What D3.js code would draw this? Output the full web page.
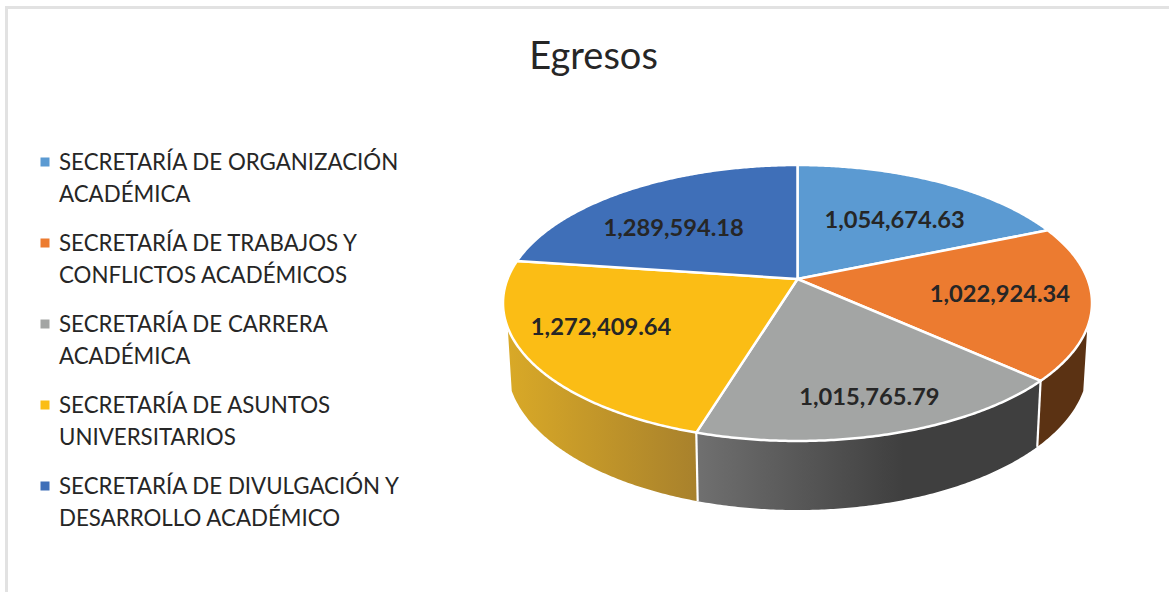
<!DOCTYPE html>
<html>
<head>
<meta charset="utf-8">
<script src="https://cdn.jsdelivr.net/npm/d3@7"></script>
<style>
    html, body { margin: 0; padding: 0; background: #fff; overflow: hidden; }
    text { font-family: Lato, "Open Sans", sans-serif; fill: #262626; }
</style>
</head>
<body>
<script>
const title = "Egresos";
const categories = [
    ["SECRETARÍA DE ORGANIZACIÓN", "ACADÉMICA"],
    ["SECRETARÍA DE TRABAJOS Y", "CONFLICTOS ACADÉMICOS"],
    ["SECRETARÍA DE CARRERA", "ACADÉMICA"],
    ["SECRETARÍA DE ASUNTOS", "UNIVERSITARIOS"],
    ["SECRETARÍA DE DIVULGACIÓN Y", "DESARROLLO ACADÉMICO"]
];
const values = [1054674.63, 1022924.34, 1015765.79, 1272409.64, 1289594.18];
const colors = ["#5b9ad2", "#ec7b30", "#a3a5a4", "#fbbd15", "#3f6fb8"];

// wall shading, left to right
const wallColors = [
    ["#5b3213", "#5b3213"],
    ["#5b3213", "#5b3213"],
    ["#707070", "#3f3f3f"],
    ["#d9a927", "#a8812c"],
    ["#000", "#000"]
];

// label placement inside the slice: share of radius, degrees off the middle
const labelRadius = [0.607, 0.693, 0.789, 0.719, 0.62];
const labelShift = [3.2, -1.1, -0.4, 5.2, -6.6];

const width = 1169, height = 592;
const toRad = Math.PI / 180;

// the tilted disc: unit circle seen in perspective
const top3d = {cx: 797.5, cy: 279, a: 290, b: 133.8, k: 0.174};
const bottom3d = {cx: 797.5, cy: 339.8, a: 286, b: 140.6, k: 0.174};
const wallFrom = 110 * toRad, wallTo = 250 * toRad;

function project(disc, angle, r = 1) {
    let u = r * Math.sin(angle), v = -r * Math.cos(angle);
    let d = 1 - disc.k * v;
    return [disc.cx + disc.a * u / d, disc.cy + disc.b * v / d];
}

function rim(disc, from, to) {
    let n = Math.max(2, Math.ceil((to - from) / (0.5 * toRad)));
    return d3.range(n + 1).map(i => project(disc, from + (to - from) * i / n));
}

const line = d3.line();
const pie = d3.pie().sort(null).value(d => d);
const slices = pie(values);
const money = d3.format(",.2f");

const svg = d3.select("body").append("svg")
    .attr("width", width)
    .attr("height", height)
    .style("display", "block");

// chart frame, only top and left show in the crop
svg.append("path")
    .attr("d", line([[6.5, height], [6.5, 7.5], [width, 7.5]]))
    .attr("fill", "none")
    .attr("stroke", "#e2e2e2")
    .attr("stroke-width", 3);

svg.append("text")
    .attr("x", 593.5)
    .attr("y", 69)
    .attr("text-anchor", "middle")
    .style("font-size", "38px")
    .text(title);

// legend
const legendY = d3.scaleLinear().domain([0, 4]).range([170, 494]);
const legend = svg.selectAll(".legend")
    .data(categories)
    .enter().append("g")
    .attr("class", "legend")
    .attr("transform", (d, i) => "translate(0," + legendY(i) + ")");

legend.append("rect")
    .attr("x", 40.5)
    .attr("y", -12.5)
    .attr("width", 9)
    .attr("height", 9)
    .attr("fill", (d, i) => colors[i]);

legend.selectAll("text")
    .data(d => d)
    .enter().append("text")
    .attr("x", 59)
    .attr("y", (d, i) => i * 32)
    .style("font-size", "22.3px")
    .text(d => d);

// walls
const defs = svg.append("defs");
const walls = [];
slices.forEach((s, i) => {
    let from = Math.max(s.startAngle, wallFrom);
    let to = Math.min(s.endAngle, wallTo);
    if (to <= from) return;
    let upper = rim(top3d, from, to);
    let lower = rim(bottom3d, from, to);
    let xs = d3.extent(upper.concat(lower), p => p[0]);
    let grad = defs.append("linearGradient")
        .attr("id", "wall" + i)
        .attr("gradientUnits", "userSpaceOnUse")
        .attr("x1", xs[0]).attr("x2", i === 2 ? xs[0] + (xs[1] - xs[0]) * 0.6 : xs[1])
        .attr("y1", 0).attr("y2", 0);
    grad.append("stop").attr("offset", 0).attr("stop-color", wallColors[i][0]);
    grad.append("stop").attr("offset", 1).attr("stop-color", wallColors[i][1]);
    walls.push({i: i, from: from, to: to, points: upper.concat(lower.reverse())});
});

svg.selectAll(".wall")
    .data(walls)
    .enter().append("path")
    .attr("class", "wall")
    .attr("d", d => line(d.points) + "Z")
    .attr("fill", d => "url(#wall" + d.i + ")");

// white seams where two walls meet
svg.selectAll(".seam")
    .data(walls.filter(d => d.from > wallFrom))
    .enter().append("path")
    .attr("class", "seam")
    .attr("d", d => line([project(top3d, d.from), project(bottom3d, d.from)]))
    .attr("stroke", "#fff")
    .attr("stroke-width", 2.2);

// top face
svg.selectAll(".slice")
    .data(slices)
    .enter().append("path")
    .attr("class", "slice")
    .attr("d", d => line([[top3d.cx, top3d.cy]].concat(rim(top3d, d.startAngle, d.endAngle))) + "Z")
    .attr("fill", (d, i) => colors[i])
    .attr("stroke", "#fff")
    .attr("stroke-width", 2.5)
    .attr("stroke-linejoin", "round");

svg.selectAll(".value")
    .data(slices)
    .enter().append("text")
    .attr("class", "value")
    .attr("text-anchor", "middle")
    .attr("dominant-baseline", "central")
    .attr("transform", (d, i) => {
        let mid = (d.startAngle + d.endAngle) / 2 + labelShift[i] * toRad;
        return "translate(" + project(top3d, mid, labelRadius[i]) + ")";
    })
    .style("font-size", "23.7px")
    .style("font-weight", "700")
    .text(d => money(d.data));
</script>
</body>
</html>
